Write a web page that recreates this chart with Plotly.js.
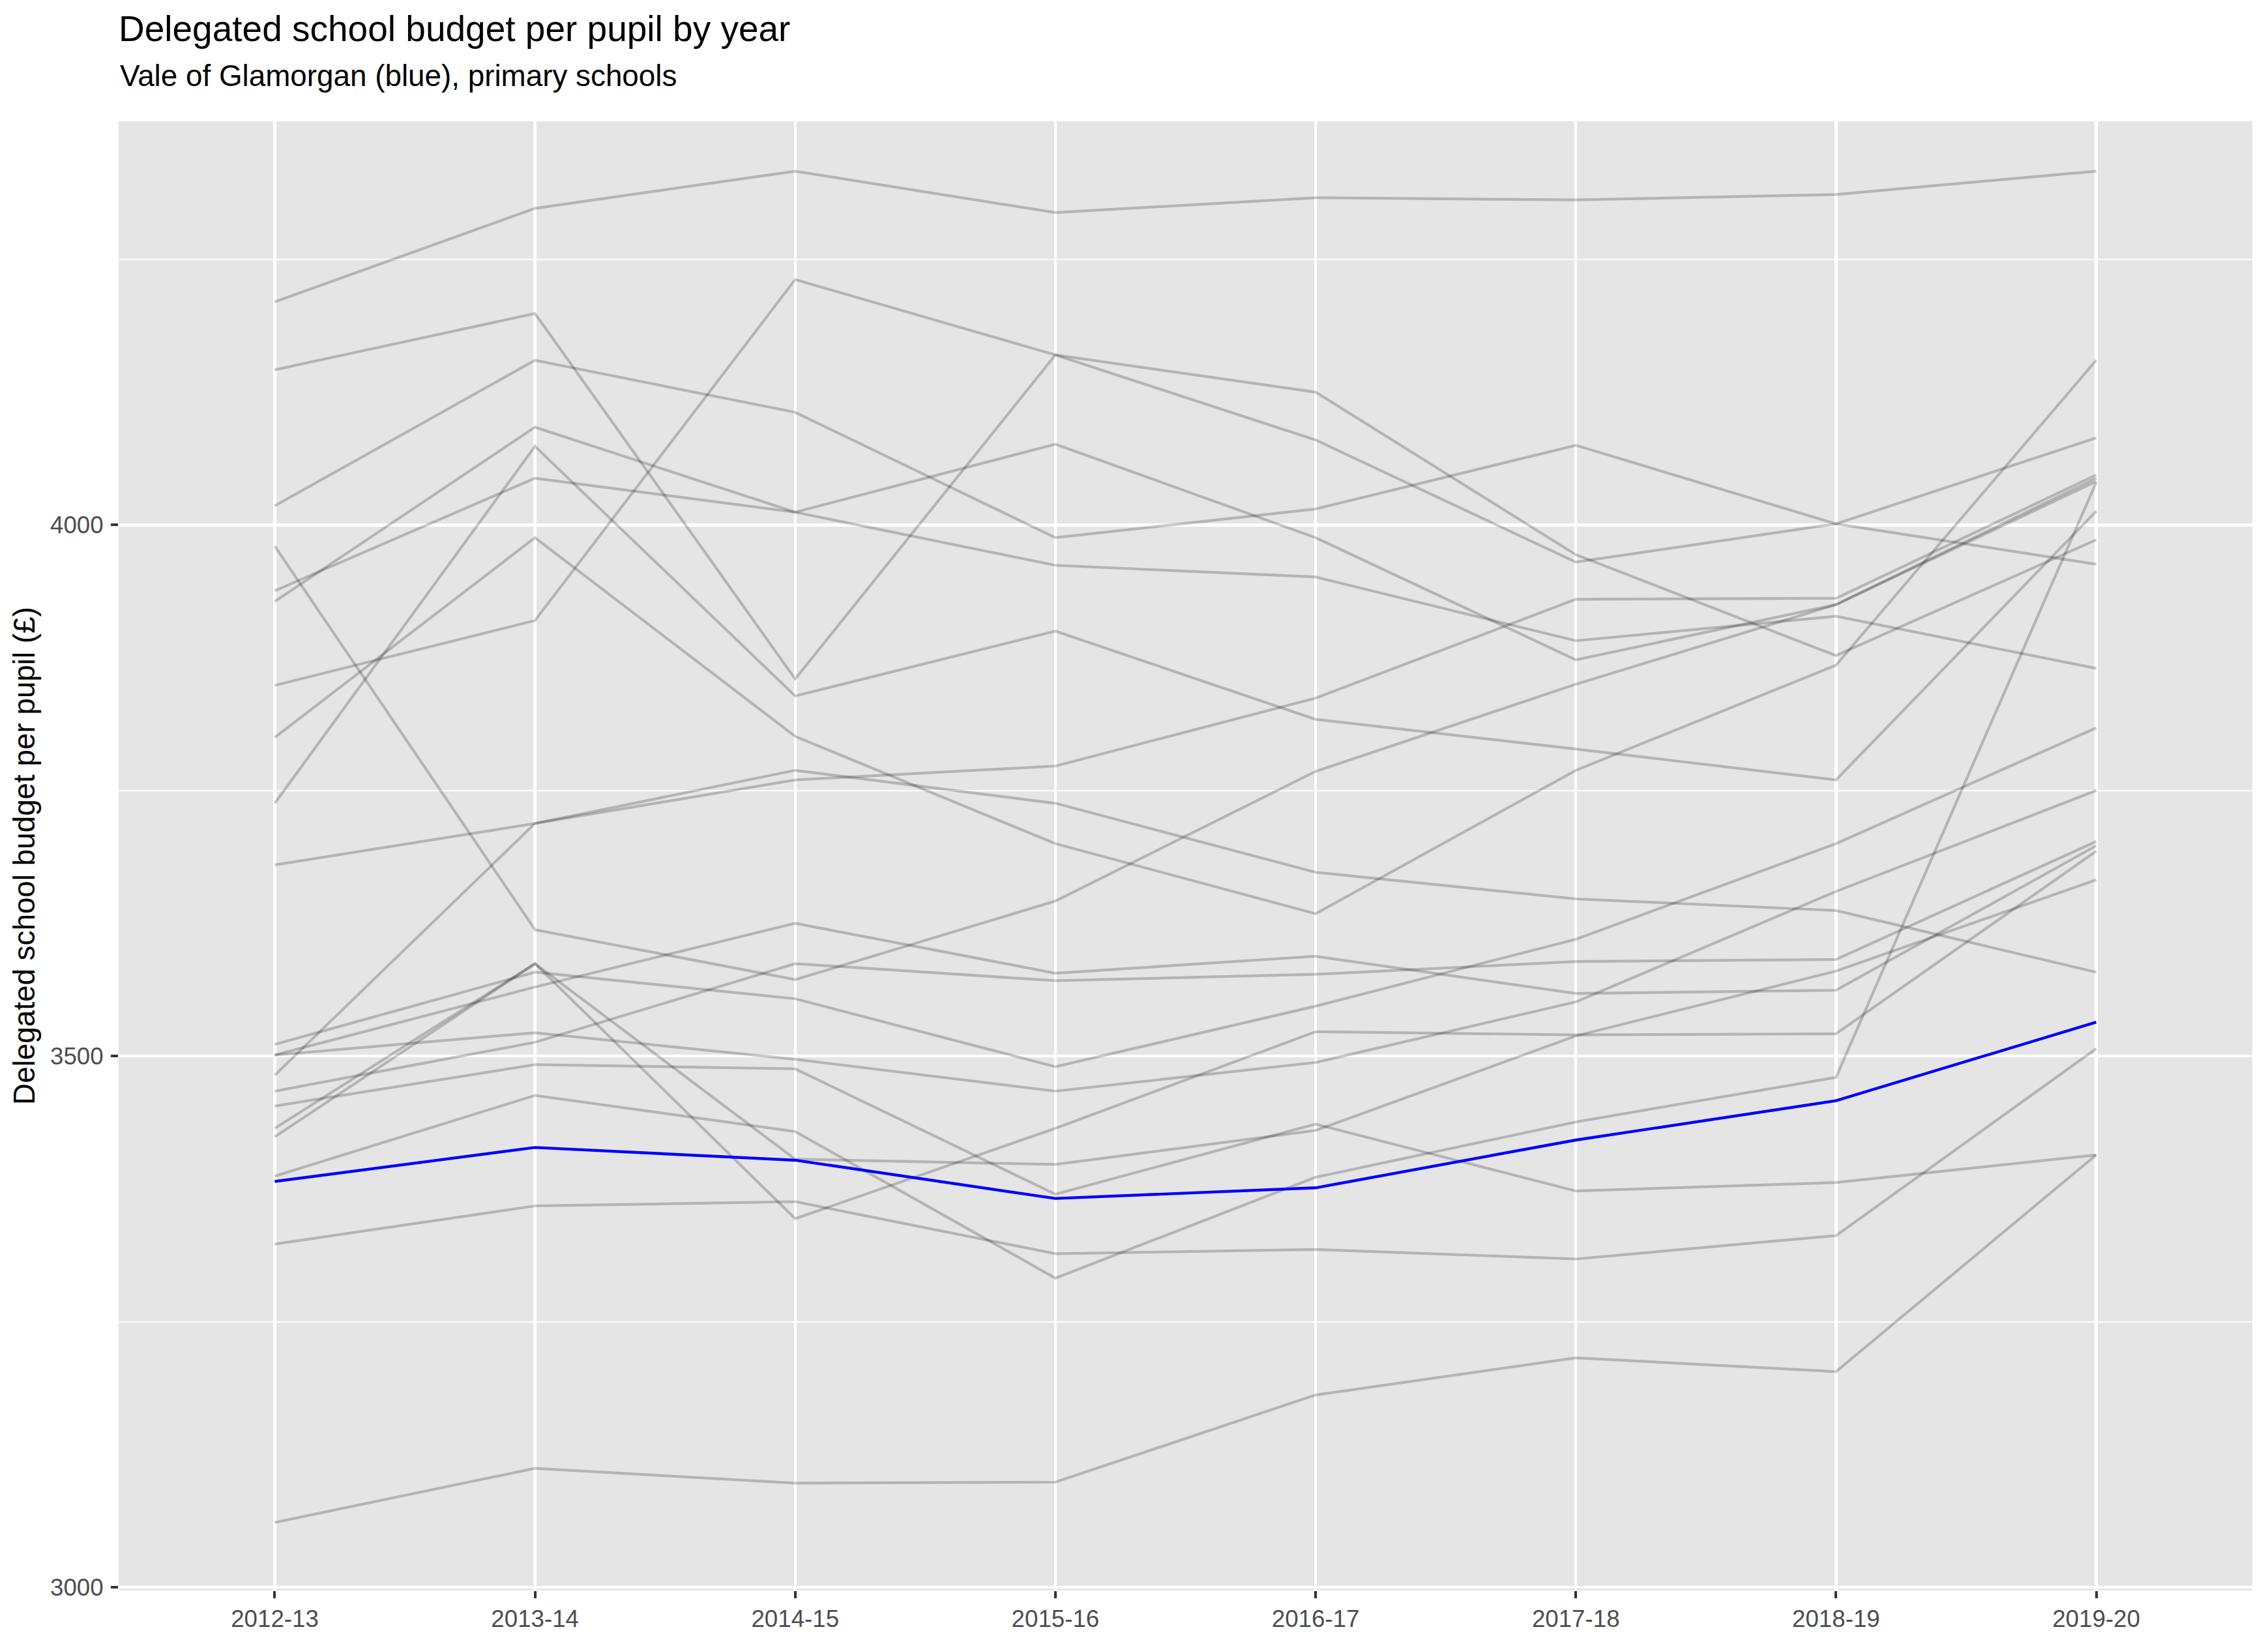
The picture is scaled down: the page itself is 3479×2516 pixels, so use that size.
<!DOCTYPE html>
<html>
<head>
<meta charset="utf-8">
<script src="https://cdn.plot.ly/plotly-3.0.1.min.js"></script>
<style>
  html, body { margin: 0; padding: 0; background: #ffffff; }
  #chart { width: 3479px; height: 2516px; }
</style>
</head>
<body>
<div id="chart"></div>
<script>
// Financial years (x categories)
const years = ['2012-13', '2013-14', '2014-15', '2015-16', '2016-17', '2017-18', '2018-19', '2019-20'];

// Other authorities (grey lines), delegated budget per pupil (£)
const grey01 = [4210, 4298, 4333, 4294, 4308, 4306, 4311, 4333];
const grey02 = [4146, 4199, 3855, 4160, 4080, 3965, 4001, 4082];
const grey03 = [4018, 4155, 4106, 3988, 4015, 4075, 4001, 3963];
const grey04 = [3980, 3619, 3572, 3646, 3768, 3850, 3925, 4044];
const grey05 = [3938, 4044, 4012, 3962, 3951, 3891, 3914, 3865];
const grey06 = [3928, 4092, 4012, 4076, 3988, 3873, 3925, 4041];
const grey07 = [3849, 3910, 4231, 4160, 4125, 3972, 3877, 3986];
const grey08 = [3800, 3988, 3801, 3700, 3634, 3769, 3868, 4155];
const grey09 = [3738, 4074, 3839, 3900, 3817, 3789, 3760, 4013];
const grey10 = [3680, 3719, 3769, 3738, 3673, 3648, 3637, 3579];
const grey11 = [3511, 3579, 3554, 3490, 3547, 3610, 3700, 3809];
const grey12 = [3501, 3565, 3625, 3578, 3594, 3559, 3562, 3698];
const grey13 = [3501, 3522, 3497, 3467, 3494, 3551, 3655, 3750];
const grey14 = [3482, 3719, 3760, 3773, 3837, 3930, 3931, 4047];
const grey15 = [3467, 3513, 3587, 3571, 3577, 3589, 3591, 3702];
const grey16 = [3453, 3492, 3488, 3370, 3436, 3373, 3381, 3407];
const grey17 = [3432, 3587, 3403, 3398, 3430, 3519, 3580, 3666];
const grey18 = [3424, 3587, 3347, 3432, 3523, 3520, 3521, 3693];
const grey19 = [3387, 3463, 3429, 3291, 3386, 3438, 3480, 4040];
const grey20 = [3323, 3359, 3363, 3314, 3318, 3309, 3331, 3507];
const grey21 = [3061, 3112, 3098, 3099, 3181, 3216, 3203, 3407];

// Vale of Glamorgan (blue line)
const vale = [3382, 3414, 3402, 3366, 3376, 3421, 3458, 3532];

// Y-axis tick values and visible range
const yMajorTicks = [3000, 3500, 4000];
const yTickLabels = ['3000', '3500', '4000'];
const yRange = [2997, 4380];

const greySeries = [grey01, grey02, grey03, grey04, grey05, grey06, grey07, grey08, grey09, grey10,
                    grey11, grey12, grey13, grey14, grey15, grey16, grey17, grey18, grey19, grey20, grey21];

const traces = greySeries.map(function (vals) {
  return {
    type: 'scatter', mode: 'lines', x: years, y: vals,
    line: { color: 'rgba(0,0,0,0.21)', width: 4.2 },
    hoverinfo: 'skip', showlegend: false
  };
});
traces.push({
  type: 'scatter', mode: 'lines', x: years, y: vale,
  line: { color: '#0000ff', width: 4.4 },
  hoverinfo: 'skip', showlegend: false
});

const FONT = 'Liberation Sans, Arial, Helvetica, sans-serif';

const layout = {
  width: 3479, height: 2516,
  margin: { l: 182, r: 24, t: 186, b: 76, pad: 0 },
  paper_bgcolor: '#ffffff',
  plot_bgcolor: '#e5e5e5',
  font: { family: FONT, color: '#000000', size: 46 },
  showlegend: false,
  title: {
    text: 'Delegated school budget per pupil by year',
    font: { family: FONT, size: 55, color: '#000000' },
    xref: 'paper', x: 0, xanchor: 'left',
    yref: 'container', y: 1 - 44 / 2516, yanchor: 'middle'
  },
  annotations: [{
    text: 'Vale of Glamorgan (blue), primary schools',
    xref: 'paper', x: 0, xanchor: 'left',
    yref: 'paper', y: 1, yanchor: 'middle', yshift: 186 - 116,
    showarrow: false,
    font: { family: FONT, size: 45.8, color: '#000000' }
  }],
  xaxis: {
    type: 'category',
    categoryorder: 'array', categoryarray: years,
    range: [-0.6, years.length - 1 + 0.6],
    showgrid: true, gridcolor: '#ffffff', gridwidth: 4.4,
    zeroline: false, showline: false,
    ticks: 'outside', ticklen: 11, tickwidth: 4, tickcolor: '#333333',
    tickfont: { family: FONT, size: 36.7, color: '#4d4d4d' },
    ticklabelstandoff: 0,
    fixedrange: true
  },
  yaxis: {
    range: yRange,
    tickmode: 'array', tickvals: yMajorTicks, ticktext: yTickLabels,
    showgrid: true, gridcolor: '#ffffff', gridwidth: 4.4,
    minor: { tickmode: 'linear', tick0: 3250, dtick: 500, showgrid: true, gridcolor: '#ffffff', gridwidth: 2.2, ticks: '' },
    zeroline: false, showline: false,
    ticks: 'outside', ticklen: 11, tickwidth: 4, tickcolor: '#333333',
    tickfont: { family: FONT, size: 36.7, color: '#4d4d4d' },
    ticklabelstandoff: 4,
    title: {
      text: 'Delegated school budget per pupil (£)',
      font: { family: FONT, size: 45.8, color: '#000000' },
      standoff: 9
    },
    automargin: false,
    fixedrange: true
  }
};

Plotly.newPlot('chart', traces, layout, { staticPlot: true, displayModeBar: false });
</script>
</body>
</html>
